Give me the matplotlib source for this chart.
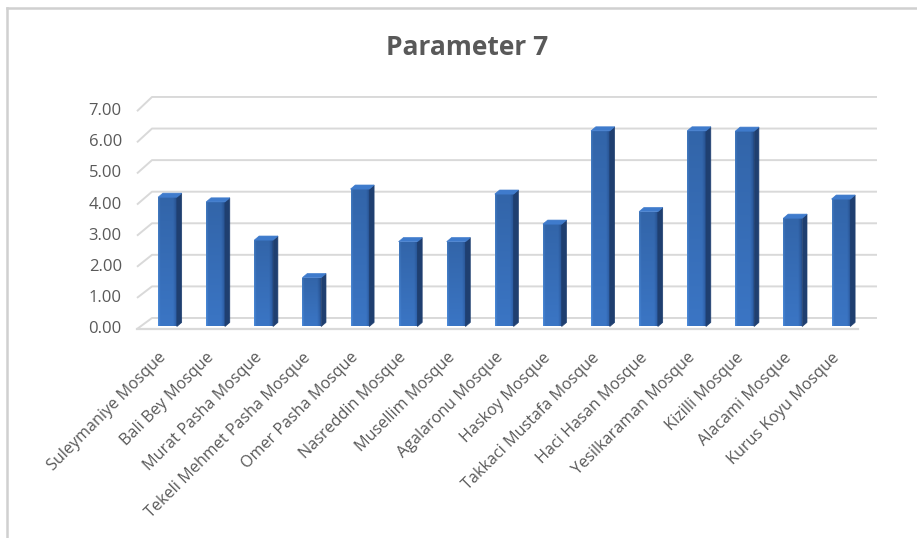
import numpy as np
import matplotlib
matplotlib.use("Agg")
import matplotlib.pyplot as plt
from matplotlib.patches import Polygon, Rectangle
from matplotlib.lines import Line2D

categories = ["Suleymaniye Mosque", "Bali Bey Mosque", "Murat Pasha Mosque",
              "Tekeli Mehmet Pasha Mosque", "Omer Pasha Mosque", "Nasreddin Mosque",
              "Musellim Mosque", "Agalaronu Mosque", "Haskoy Mosque",
              "Takkaci Mustafa Mosque", "Haci Hasan Mosque", "Yesilkaraman Mosque",
              "Kizilli Mosque", "Alacami Mosque", "Kurus Koyu Mosque"]
values = [4.13, 3.98, 2.76, 1.56, 4.39, 2.71, 2.71, 4.23, 3.27, 6.25, 3.67, 6.25, 6.24, 3.46, 4.07]
yticks = [0, 1, 2, 3, 4, 5, 6, 7]
ytick_labels = ["0.00", "1.00", "2.00", "3.00", "4.00", "5.00", "6.00", "7.00"]
title = "Parameter 7"

plt.rcParams['font.family'] = ['Open Sans', 'DejaVu Sans']
TXT = '#595959'
GRID = '#d9d9d9'

fig = plt.figure(figsize=(9.17, 5.38), dpi=100)
ax = fig.add_axes([0, 0, 1, 1])
ax.set_xlim(-3.482, 15.582)
ax.set_ylim(-6.757, 10.431)
ax.axis('off')

# frame (partially visible chart border)
fig.add_artist(Line2D([7/917, 7/917], [0, 1 - 8/538], transform=fig.transFigure, color='#d0d0d0', lw=1.8))
fig.add_artist(Line2D([7/917, 1], [1 - 8/538, 1 - 8/538], transform=fig.transFigure, color='#d0d0d0', lw=1.8))

n = len(categories)
x_front_left = -0.634
x_back_left = -0.322
x_back_right = 14.75

def front_y(v):
    return v * 0.994 - 0.08

def back_y(v):
    return 0.272 + 1.0087 * v

for v, lab in zip(yticks, ytick_labels):
    ax.plot([x_front_left, x_back_left, x_back_right], [front_y(v), back_y(v), back_y(v)],
            color=GRID, lw=1.4, zorder=1, solid_capstyle='butt')
    ax.text(-0.95, front_y(v), lab, ha='right', va='center', fontsize=12, color=TXT)

# floor front edge
ax.plot([x_front_left, 14.36], [front_y(0), front_y(0)], color=GRID, lw=1.6, zorder=1)

w = 0.39
dx = 0.10
dy = 0.13

# gradient for front face
light = np.array([0.30, 0.55, 0.86])
mid = np.array([0.23, 0.46, 0.77])
dark = np.array([0.17, 0.36, 0.64])
cols = 64
xs = np.linspace(0, 1, cols)
row = np.zeros((cols, 3))
for k, t in enumerate(xs):
    if t < 0.12:
        row[k] = light + (mid - light) * (t / 0.12)
    elif t < 0.8:
        row[k] = mid
    else:
        row[k] = mid + (dark - mid) * ((t - 0.8) / 0.2)
rows = 64
img = np.zeros((rows, cols, 3))
for r in range(rows):
    f = 0.86 + 0.14 * (1 - r / (rows - 1))
    img[r] = row * f
img = np.clip(img, 0, 1)

for i, v in enumerate(values):
    x0 = i - w / 2
    x1 = i + w / 2
    rect = Rectangle((x0, 0), w, v, facecolor='none', edgecolor='none', zorder=3)
    ax.add_patch(rect)
    im = ax.imshow(img, extent=(x0, x1, 0, v), origin='lower', aspect='auto',
                   interpolation='bilinear', zorder=3)
    im.set_clip_path(rect)
    side = Polygon([(x1, 0), (x1 + dx, dy), (x1 + dx, v + dy), (x1, v)], closed=True,
                   facecolor='#1f3f70', edgecolor='#1f3f70', lw=0.5, zorder=3)
    ax.add_patch(side)
    top = Polygon([(x0, v), (x1, v), (x1 + dx, v + dy), (x0 + dx, v + dy)], closed=True,
                  facecolor='#3f7bcc', edgecolor='#3f7bcc', lw=0.5, zorder=4)
    ax.add_patch(top)
    ax.text(i - 0.08, -0.92, categories[i], rotation=45, rotation_mode='anchor',
            ha='right', va='center', fontsize=11.6, color=TXT)

ax.text(6.23, 8.9, title, ha='center', va='center', fontsize=19, fontweight='bold', color=TXT)

fig.savefig('out.png', dpi=100)
